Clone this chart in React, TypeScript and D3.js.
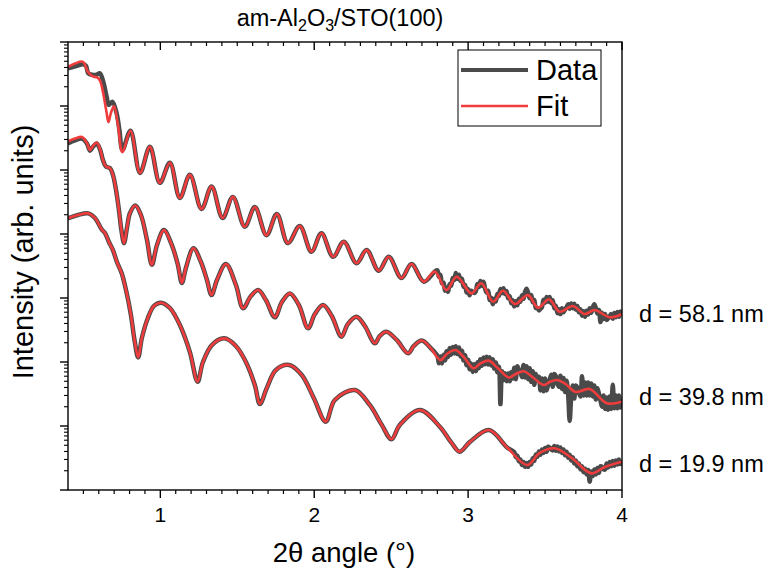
import React from 'react';
import * as d3 from 'd3';

type P = [number, number];

// ---- Fit curves (2theta in degrees, intensity in arb. units) ----
const topFit: P[] = [
  [0.400, 4.07e6], [0.445, 4.6e6], [0.497, 4.9e6], [0.530, 3.4e6], [0.562, 2.9e6], [0.588, 2.8e6],
  [0.608, 2.5e6], [0.627, 1.66e6], [0.650, 8.1e5], [0.663, 5.6e5], [0.679, 7.8e5], [0.699, 1.0e6],
  [0.725, 5.0e5], [0.754, 1.9e5], [0.806, 4.1e5], [0.868, 9.0e4], [0.932, 2.3e5], [0.997, 6.3e4],
  [1.062, 1.3e5], [1.127, 3.65e4], [1.192, 8.4e4], [1.268, 2.46e4], [1.333, 5.5e4], [1.405, 1.78e4],
  [1.471, 3.8e4], [1.549, 1.3e4], [1.614, 2.64e4], [1.690, 9.6e3], [1.757, 2.05e4], [1.829, 7.2e3],
  [1.906, 1.33e4], [1.982, 5.3e3], [2.047, 1.03e4], [2.123, 4.4e3], [2.192, 7.6e3], [2.275, 3.5e3],
  [2.340, 5.6e3], [2.419, 2.67e3], [2.484, 4.4e3], [2.567, 2.05e3], [2.632, 3.4e3], [2.712, 1.8e3],
  [2.783, 2.58e3], [2.859, 1.33e3], [2.926, 2.15e3], [3.021, 1.18e3], [3.086, 1.7e3], [3.162, 875],
  [3.227, 1.3e3], [3.303, 806], [3.389, 1.11e3], [3.454, 705], [3.525, 955], [3.595, 611],
  [3.681, 750], [3.757, 562], [3.822, 650], [3.919, 500], [4.0, 562],
];

const midFit: P[] = [
  [0.400, 2.79e5], [0.445, 3.1e5], [0.491, 3.28e5], [0.523, 2.63e5], [0.543, 2.05e5], [0.562, 2.37e5],
  [0.586, 2.69e5], [0.608, 2.13e5], [0.627, 1.43e5], [0.647, 1.13e5], [0.673, 1.07e5], [0.692, 8.4e4],
  [0.712, 4.9e4], [0.731, 2.37e4], [0.747, 1.15e4], [0.764, 7.2e3], [0.783, 1.24e4], [0.803, 2.13e4],
  [0.838, 2.79e4], [0.874, 1.98e4], [0.913, 8.1e3], [0.945, 3.3e3], [0.978, 6.7e3], [1.023, 1.15e4],
  [1.075, 6.7e3], [1.114, 3.3e3], [1.140, 1.72e3], [1.166, 2.94e3], [1.215, 5.98e3], [1.264, 3.65e3],
  [1.303, 1.91e3], [1.333, 1.11e3], [1.368, 1.91e3], [1.426, 3.4e3], [1.491, 1.6e3], [1.538, 690],
  [1.588, 1.07e3], [1.636, 1.33e3], [1.686, 931], [1.744, 500], [1.790, 866], [1.842, 1.18e3],
  [1.900, 778], [1.960, 336], [2.004, 562], [2.058, 778], [2.114, 523], [2.177, 249],
  [2.218, 392], [2.275, 510], [2.329, 365], [2.394, 196], [2.426, 255], [2.469, 297],
  [2.536, 221], [2.610, 137], [2.647, 178], [2.699, 217], [2.757, 165], [2.820, 107],
  [2.861, 133], [2.918, 154], [2.971, 120], [3.036, 79.7], [3.075, 93], [3.134, 105],
  [3.192, 80.6], [3.264, 57.3], [3.309, 64.9], [3.361, 71.8], [3.426, 56.2], [3.491, 43.7],
  [3.530, 48.7], [3.577, 52.3], [3.634, 45.3], [3.699, 34], [3.790, 37.8], [3.902, 22.6], [4.0, 24],
];

const botFit: P[] = [
  [0.400, 1.76e4], [0.465, 1.98e4], [0.532, 2.1e4], [0.575, 1.78e4], [0.619, 1.18e4], [0.640, 1.04e4],
  [0.666, 7.5e3], [0.692, 5.6e3], [0.718, 3.65e3], [0.749, 2.43e3], [0.777, 1.33e3], [0.809, 542],
  [0.832, 221], [0.856, 118], [0.880, 237], [0.919, 487], [0.958, 750], [1.003, 845],
  [1.062, 698], [1.127, 378], [1.192, 143], [1.242, 49.2], [1.277, 100], [1.335, 184],
  [1.415, 234], [1.491, 178], [1.556, 100], [1.614, 43.7], [1.647, 22.1], [1.692, 39.3],
  [1.751, 75], [1.837, 89.8], [1.919, 62.6], [1.997, 27.4], [2.075, 11.7], [2.134, 25.5],
  [2.264, 36.5], [2.361, 21.3], [2.439, 10.4], [2.502, 6.2], [2.556, 10.4], [2.686, 17.8],
  [2.816, 9.75], [2.894, 5.4], [2.945, 3.97], [3.010, 5.6], [3.136, 8.66], [3.257, 4.53],
  [3.383, 2.46], [3.465, 3.79], [3.562, 4.49], [3.673, 3.16], [3.801, 1.82], [3.888, 2.29], [4.0, 2.77],
];

// ---- Measured data: smooth low-angle part as (2theta, I) pairs ----
const topDataLow: P[] = [
  [0.400, 3.88e6], [0.452, 4.22e6], [0.499, 4.49e6], [0.517, 4.22e6], [0.532, 3.24e6], [0.564, 3.05e6],
  [0.588, 3.1e6], [0.607, 3.24e6], [0.629, 2.4e6], [0.651, 1.4e6], [0.665, 1.04e6], [0.688, 1.17e6],
  [0.716, 7.7e5], [0.734, 4.2e5], [0.754, 2.05e5], [0.806, 4.1e5], [0.868, 9.0e4], [0.932, 2.3e5],
  [0.997, 6.3e4], [1.062, 1.3e5], [1.127, 3.65e4], [1.192, 8.4e4], [1.268, 2.46e4], [1.333, 5.5e4],
  [1.405, 1.78e4], [1.471, 3.8e4], [1.549, 1.3e4], [1.614, 2.64e4], [1.690, 9.6e3], [1.757, 2.05e4],
  [1.829, 7.2e3], [1.906, 1.33e4], [1.982, 5.3e3], [2.047, 1.03e4], [2.123, 4.4e3], [2.192, 7.6e3],
  [2.275, 3.5e3], [2.340, 5.6e3], [2.419, 2.67e3], [2.484, 4.4e3], [2.567, 2.05e3], [2.632, 3.4e3],
  [2.712, 1.8e3], [2.783, 2.58e3],
];
const midDataLow: P[] = [
  [0.400, 2.6e5], [0.445, 2.9e5], [0.491, 3.1e5], [0.523, 2.6e5], [0.543, 2.0e5], [0.562, 2.3e5],
  [0.586, 2.6e5], [0.608, 2.1e5], [0.627, 1.43e5], [0.647, 1.13e5], [0.673, 1.07e5], [0.692, 8.4e4],
  [0.712, 4.9e4], [0.731, 2.37e4], [0.747, 1.15e4], [0.764, 7.2e3], [0.783, 1.24e4], [0.803, 2.13e4],
  [0.838, 2.79e4], [0.874, 1.98e4], [0.913, 8.1e3], [0.945, 3.3e3], [0.978, 6.7e3], [1.023, 1.15e4],
  [1.075, 6.7e3], [1.114, 3.3e3], [1.140, 1.72e3], [1.166, 2.94e3], [1.215, 5.98e3], [1.264, 3.65e3],
  [1.303, 1.91e3], [1.333, 1.11e3], [1.368, 1.91e3], [1.426, 3.4e3], [1.491, 1.6e3], [1.538, 690],
  [1.588, 1.07e3], [1.636, 1.33e3], [1.686, 931], [1.744, 500], [1.790, 866], [1.842, 1.18e3],
  [1.900, 778], [1.960, 336], [2.004, 562], [2.058, 778], [2.114, 523], [2.177, 249],
  [2.218, 392], [2.275, 510], [2.329, 365], [2.394, 196], [2.426, 255], [2.469, 297],
  [2.536, 221], [2.610, 137], [2.647, 178], [2.699, 217], [2.757, 165],
];
const botDataLow: P[] = [
  [0.400, 1.76e4], [0.465, 1.98e4], [0.532, 2.1e4], [0.575, 1.78e4], [0.619, 1.18e4], [0.640, 1.04e4],
  [0.666, 7.5e3], [0.692, 5.6e3], [0.718, 3.65e3], [0.749, 2.43e3], [0.777, 1.33e3], [0.809, 542],
  [0.832, 221], [0.856, 118], [0.880, 237], [0.919, 487], [0.958, 750], [1.003, 845],
  [1.062, 698], [1.127, 378], [1.192, 143], [1.242, 49.2], [1.277, 100], [1.335, 184],
  [1.415, 234], [1.491, 178], [1.556, 100], [1.614, 43.7], [1.647, 22.1], [1.692, 39.3],
  [1.751, 75], [1.837, 89.8], [1.919, 62.6], [1.997, 27.4], [2.075, 11.7], [2.134, 25.5],
  [2.264, 36.5], [2.361, 21.3], [2.439, 10.4], [2.502, 6.2], [2.556, 10.4], [2.686, 17.8],
  [2.816, 9.75], [2.894, 5.4], [2.945, 3.97], [3.010, 5.6], [3.136, 8.66], [3.257, 4.53],
];

// ---- Measured data: noisy high-angle part, sampled every 0.01 deg ----
const topNoisyStart = 2.80;
const topNoisy = [
  2700, 2150, 2300, 1700, 1750, 1300, 1450, 1250, 1650, 1550,
  2050, 1900, 2450, 2000, 2300, 1850, 2000, 1500, 1600, 1220,
  1380, 1100, 1300, 1250, 1200, 1270, 1650, 1480, 1850, 1560,
  1800, 1400, 1220, 1300, 930, 1010, 800, 970, 880, 1160,
  1070, 1380, 1190, 1420, 1150, 1290, 990, 1070, 830, 920,
  740, 890, 770, 970, 870, 1100, 970, 1250, 1400, 1200,
  990, 1110, 860, 930, 700, 700, 640, 680, 720, 940,
  840, 1040, 870, 1040, 830, 920, 690, 760, 580, 670,
  560, 690, 600, 660, 720, 800, 680, 820, 690, 810,
  660, 750, 600, 670, 530, 620, 510, 630, 550, 690,
  590, 710, 800, 700, 570, 650, 420, 590, 470, 560,
  455, 480, 520, 560, 475, 585, 500, 605, 510, 615,
  560,
];
const midNoisyStart = 2.80;
const midNoisy = [
  125, 96, 122, 95, 130, 106, 147, 120, 165, 130,
  172, 136, 176, 133, 168, 122, 150, 106, 127, 89,
  108, 77, 95, 70, 92, 72, 99, 80, 110, 87,
  118, 92, 121, 91, 119, 88, 110, 79, 98, 69,
  84, 22, 72, 52, 67, 50, 66, 50, 69, 55,
  81, 54, 86, 75, 70, 58, 90, 57, 86, 54,
  80, 49, 72, 44, 65, 52, 59, 36, 55, 35,
  55, 36, 44, 52, 63, 41, 65, 60, 46, 41,
  61, 38, 56, 34, 51, 31, 12, 28, 43, 27,
  43, 40, 33, 29, 60, 30, 48, 30, 48, 30,
  46, 29, 43, 26, 39, 32, 25, 20, 30, 18.5,
  28, 18, 29, 18.5, 44, 19, 30, 19, 30, 19.5,
  27,
];
const botNoisyStart = 3.30;
const botNoisy = [
  3.9, 3.25, 3.45, 2.8, 3.0, 2.45, 2.75, 2.3, 2.65, 2.3,
  2.75, 2.5, 3.15, 2.85, 3.6, 3.3, 4.0, 3.55, 4.3, 3.8,
  4.55, 3.95, 4.75, 4.6, 4.3, 4.15, 4.85, 4.1, 4.8, 4.0,
  4.6, 3.8, 4.3, 3.5, 3.95, 3.2, 3.55, 2.9, 3.25, 2.6,
  2.9, 2.35, 2.6, 2.1, 2.35, 1.9, 2.15, 1.75, 2.05, 1.35,
  1.95, 1.65, 2.1, 1.75, 2.2, 1.85, 2.35, 2.3, 2.1, 2.1,
  2.6, 2.25, 2.75, 2.35, 2.85, 2.4, 2.9, 2.5, 3.0, 2.55,
  2.95,
];

const xTickValues = [1, 2, 3, 4];
const xTickLabels = ['1', '2', '3', '4'];
const curveLabels = ['d = 58.1 nm', 'd = 39.8 nm', 'd = 19.9 nm'];
const legendLabels = ['Data', 'Fit'];

const DATA_COLOR = '#4a4a4a';
const FIT_COLOR = '#f03c3c';
const FONT = 'Arial, "Liberation Sans", Helvetica, sans-serif';

const withGrid = (start: number, vals: number[]): P[] =>
  vals.map((v, i) => [Math.round((start + i * 0.01) * 100) / 100, v] as P);

export default function App() {
  const L = 68, R = 622, T = 42, B = 490;
  const x = d3.scaleLinear().domain([0.4, 4]).range([L, R]);
  const y = d3.scaleLog().domain([1, 1e7]).range([B, T]);
  const line = d3
    .line<P>()
    .x((d) => x(d[0]))
    .y((d) => y(d[1]))
    .curve(d3.curveCatmullRom.alpha(0.5));

  const xMinor = d3.range(5, 40).filter((i) => i % 10 !== 0).map((i) => i / 10);
  const yAll = y.ticks(70);
  const isDecade = (v: number) => Math.abs(Math.log10(v) - Math.round(Math.log10(v))) < 1e-6;
  const yMajor = yAll.filter(isDecade);
  const yMinor = yAll.filter((v) => !isDecade(v));

  const dataSets: P[][] = [
    [...topDataLow, ...withGrid(topNoisyStart, topNoisy)],
    [...midDataLow, ...withGrid(midNoisyStart, midNoisy)],
    [...botDataLow, ...withGrid(botNoisyStart, botNoisy)],
  ];
  const fitSets = [topFit, midFit, botFit];
  const labelY = [322, 405, 472];

  return (
    <svg
      width={768}
      height={575}
      style={{ position: 'absolute', left: 0, top: 0, background: '#fff' }}
      fontFamily={FONT}
    >
      <rect x={0} y={0} width={768} height={575} fill="#fff" />
      <defs>
        <clipPath id="plotClip">
          <rect x={L} y={T} width={R - L} height={B - T} />
        </clipPath>
      </defs>

      {/* title */}
      <text x={340} y={26} textAnchor="middle" fontSize={23.5} fill="#000">
        am-Al<tspan fontSize={16} dy={5}>2</tspan>
        <tspan dy={-5}>O</tspan>
        <tspan fontSize={16} dy={5}>3</tspan>
        <tspan dy={-5}>/STO(100)</tspan>
      </text>

      {/* curves */}
      <g clipPath="url(#plotClip)">
        {dataSets.map((d, i) => (
          <path key={'d' + i} d={line(d) || ''} fill="none" stroke={DATA_COLOR} strokeWidth={4.5} strokeLinejoin="round" />
        ))}
        {fitSets.map((d, i) => (
          <path key={'f' + i} d={line(d) || ''} fill="none" stroke={FIT_COLOR} strokeWidth={2.6} strokeLinejoin="round" />
        ))}
      </g>

      {/* frame */}
      <rect x={L} y={T} width={R - L} height={B - T} fill="none" stroke="#000" strokeWidth={1.4} />

      {/* bottom ticks (outward) */}
      {xTickValues.map((v) => (
        <line key={'bx' + v} x1={x(v)} x2={x(v)} y1={B} y2={B + 8} stroke="#000" strokeWidth={1.4} />
      ))}
      {xMinor.map((v) => (
        <line key={'bm' + v} x1={x(v)} x2={x(v)} y1={B} y2={B + 4} stroke="#000" strokeWidth={1.2} />
      ))}
      {/* top ticks (inward) */}
      {xTickValues.map((v) => (
        <line key={'tx' + v} x1={x(v)} x2={x(v)} y1={T} y2={T + 8} stroke="#000" strokeWidth={1.4} />
      ))}
      {xMinor.map((v) => (
        <line key={'tm' + v} x1={x(v)} x2={x(v)} y1={T} y2={T + 4} stroke="#000" strokeWidth={1.2} />
      ))}
      {/* left ticks (outward) */}
      {yMajor.map((v) => (
        <line key={'ly' + v} x1={L - 8} x2={L} y1={y(v)} y2={y(v)} stroke="#000" strokeWidth={1.4} />
      ))}
      {yMinor.map((v) => (
        <line key={'lm' + v} x1={L - 4} x2={L} y1={y(v)} y2={y(v)} stroke="#000" strokeWidth={1.1} />
      ))}

      {/* x tick labels */}
      {xTickValues.map((v, i) => (
        <text key={'xl' + v} x={x(v)} y={522} textAnchor="middle" fontSize={21} fill="#000">
          {xTickLabels[i]}
        </text>
      ))}

      {/* axis titles */}
      <text x={344} y={562} textAnchor="middle" fontSize={27.5} fill="#000">
        2θ angle (°)
      </text>
      <text transform="translate(33,252) rotate(-90)" textAnchor="middle" fontSize={29} fill="#000">
        Intensity (arb. units)
      </text>

      {/* curve labels */}
      {curveLabels.map((t, i) => (
        <text key={'cl' + i} x={639} y={labelY[i]} fontSize={23.5} fill="#000">
          {t}
        </text>
      ))}

      {/* legend */}
      <g>
        <rect x={458} y={50} width={143} height={76} fill="#fff" stroke="#000" strokeWidth={1} />
        <line x1={461} x2={528} y1={70} y2={70} stroke={DATA_COLOR} strokeWidth={4} />
        <line x1={461} x2={528} y1={106} y2={106} stroke={FIT_COLOR} strokeWidth={2.6} />
        <text x={536} y={80} fontSize={29} fill="#000">{legendLabels[0]}</text>
        <text x={536} y={116} fontSize={29} fill="#000">{legendLabels[1]}</text>
      </g>
    </svg>
  );
}
